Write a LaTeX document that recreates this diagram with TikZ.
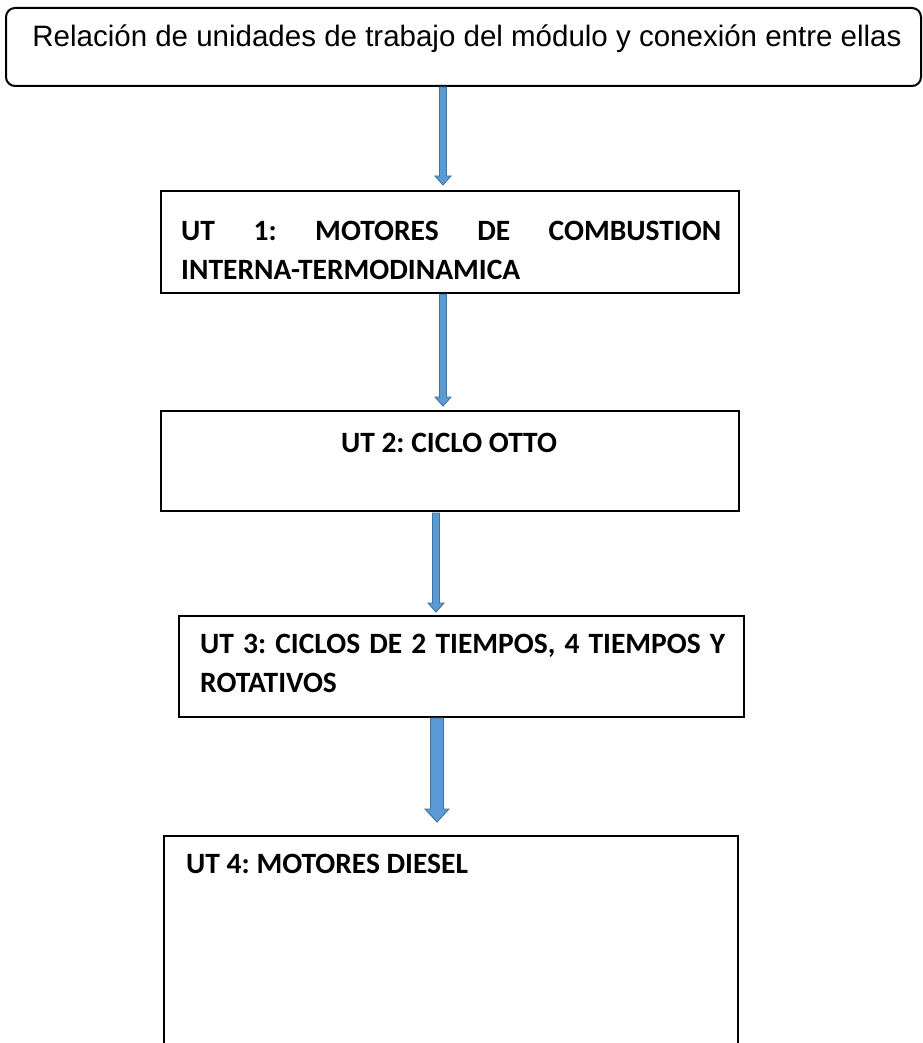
\documentclass[tikz,border=0pt]{standalone}
\usepackage{fontspec}
\setmainfont{Carlito}
\newfontfamily\arialf{Liberation Sans}
\usetikzlibrary{calc}
\definecolor{arrfill}{HTML}{5B9BD5}
\definecolor{arrline}{HTML}{41719C}
\frenchspacing
\tikzset{
  unitbox/.style={draw=black, line width=2.2pt, inner sep=0pt, anchor=north west},
  toptitle/.style={draw=black, rounded corners=9pt, line width=2pt, inner sep=0pt, anchor=north west},
  uttext/.style={font=\bfseries\fontsize{29.5}{39}\selectfont, inner sep=0pt, align=justify},
  blockarrow/.style={fill=arrfill, draw=arrline, line width=0.9pt},
}
\newcommand\blockarr[5]{%
  \path[blockarrow] let \p1=(#1), \p2=(#2) in
    (\x1-#3,\y1) -- (\x1-#3,\y2+#5) -- (\x1-#4,\y2+#5) -- (\x1,\y2)
    -- (\x1+#4,\y2+#5) -- (\x1+#3,\y2+#5) -- (\x1+#3,\y1) -- cycle;}
\begin{document}
\begin{tikzpicture}[x=1pt,y=-1pt]
\useasboundingbox (0,0) rectangle (922,1043);
\begin{scope}
\clip (0,0) rectangle (922,1043);
% title
\node[toptitle, minimum width=915pt, minimum height=78pt] (top) at (5,7) {};
\node[font=\arialf\fontsize{29.5}{35}\selectfont, anchor=base, inner sep=0pt] (toptext) at (467,47)
  {Relación de unidades de trabajo del módulo y conexión entre ellas};
% boxes
\node[unitbox, minimum width=578pt, minimum height=102pt] (b1) at (160,190) {};
\node[uttext, text width=540pt, anchor=base west] (t1) at (181,240)
  {UT 1: MOTORES DE COMBUSTION\linebreak INTERNA-TERMODINAMICA};
\node[unitbox, minimum width=578pt, minimum height=100pt] (b2) at (160,410) {};
\node[uttext, anchor=base] (t2) at (449,452) {UT 2: CICLO OTTO};
\node[unitbox, minimum width=565pt, minimum height=101pt] (b3) at (178,615) {};
\node[uttext, text width=525pt, anchor=base west] (t3) at (200,653)
  {UT 3: CICLOS DE 2 TIEMPOS, 4 TIEMPOS Y\linebreak ROTATIVOS};
\node[unitbox, minimum width=574pt, minimum height=230pt] (b4) at (163,835) {};
\node[uttext, anchor=base west] (t4) at (186,873) {UT 4: MOTORES DIESEL};
% arrows
\coordinate (a1s) at (top.south -| 443,0);
\coordinate (a1e) at (443,185);
\coordinate (a2s) at (b1.south -| 443,0);
\coordinate (a2e) at (443,406);
\coordinate (a3s) at (436,513);
\coordinate (a3e) at (436,612);
\coordinate (a4s) at (437,718);
\coordinate (a4e) at (437,822);
\blockarr{a1s}{a1e}{3.5pt}{8pt}{9pt}
\blockarr{a2s}{a2e}{3.5pt}{8pt}{9pt}
\blockarr{a3s}{a3e}{3.5pt}{8pt}{9pt}
\blockarr{a4s}{a4e}{6.5pt}{12pt}{13pt}
\end{scope}
\end{tikzpicture}
\end{document}
